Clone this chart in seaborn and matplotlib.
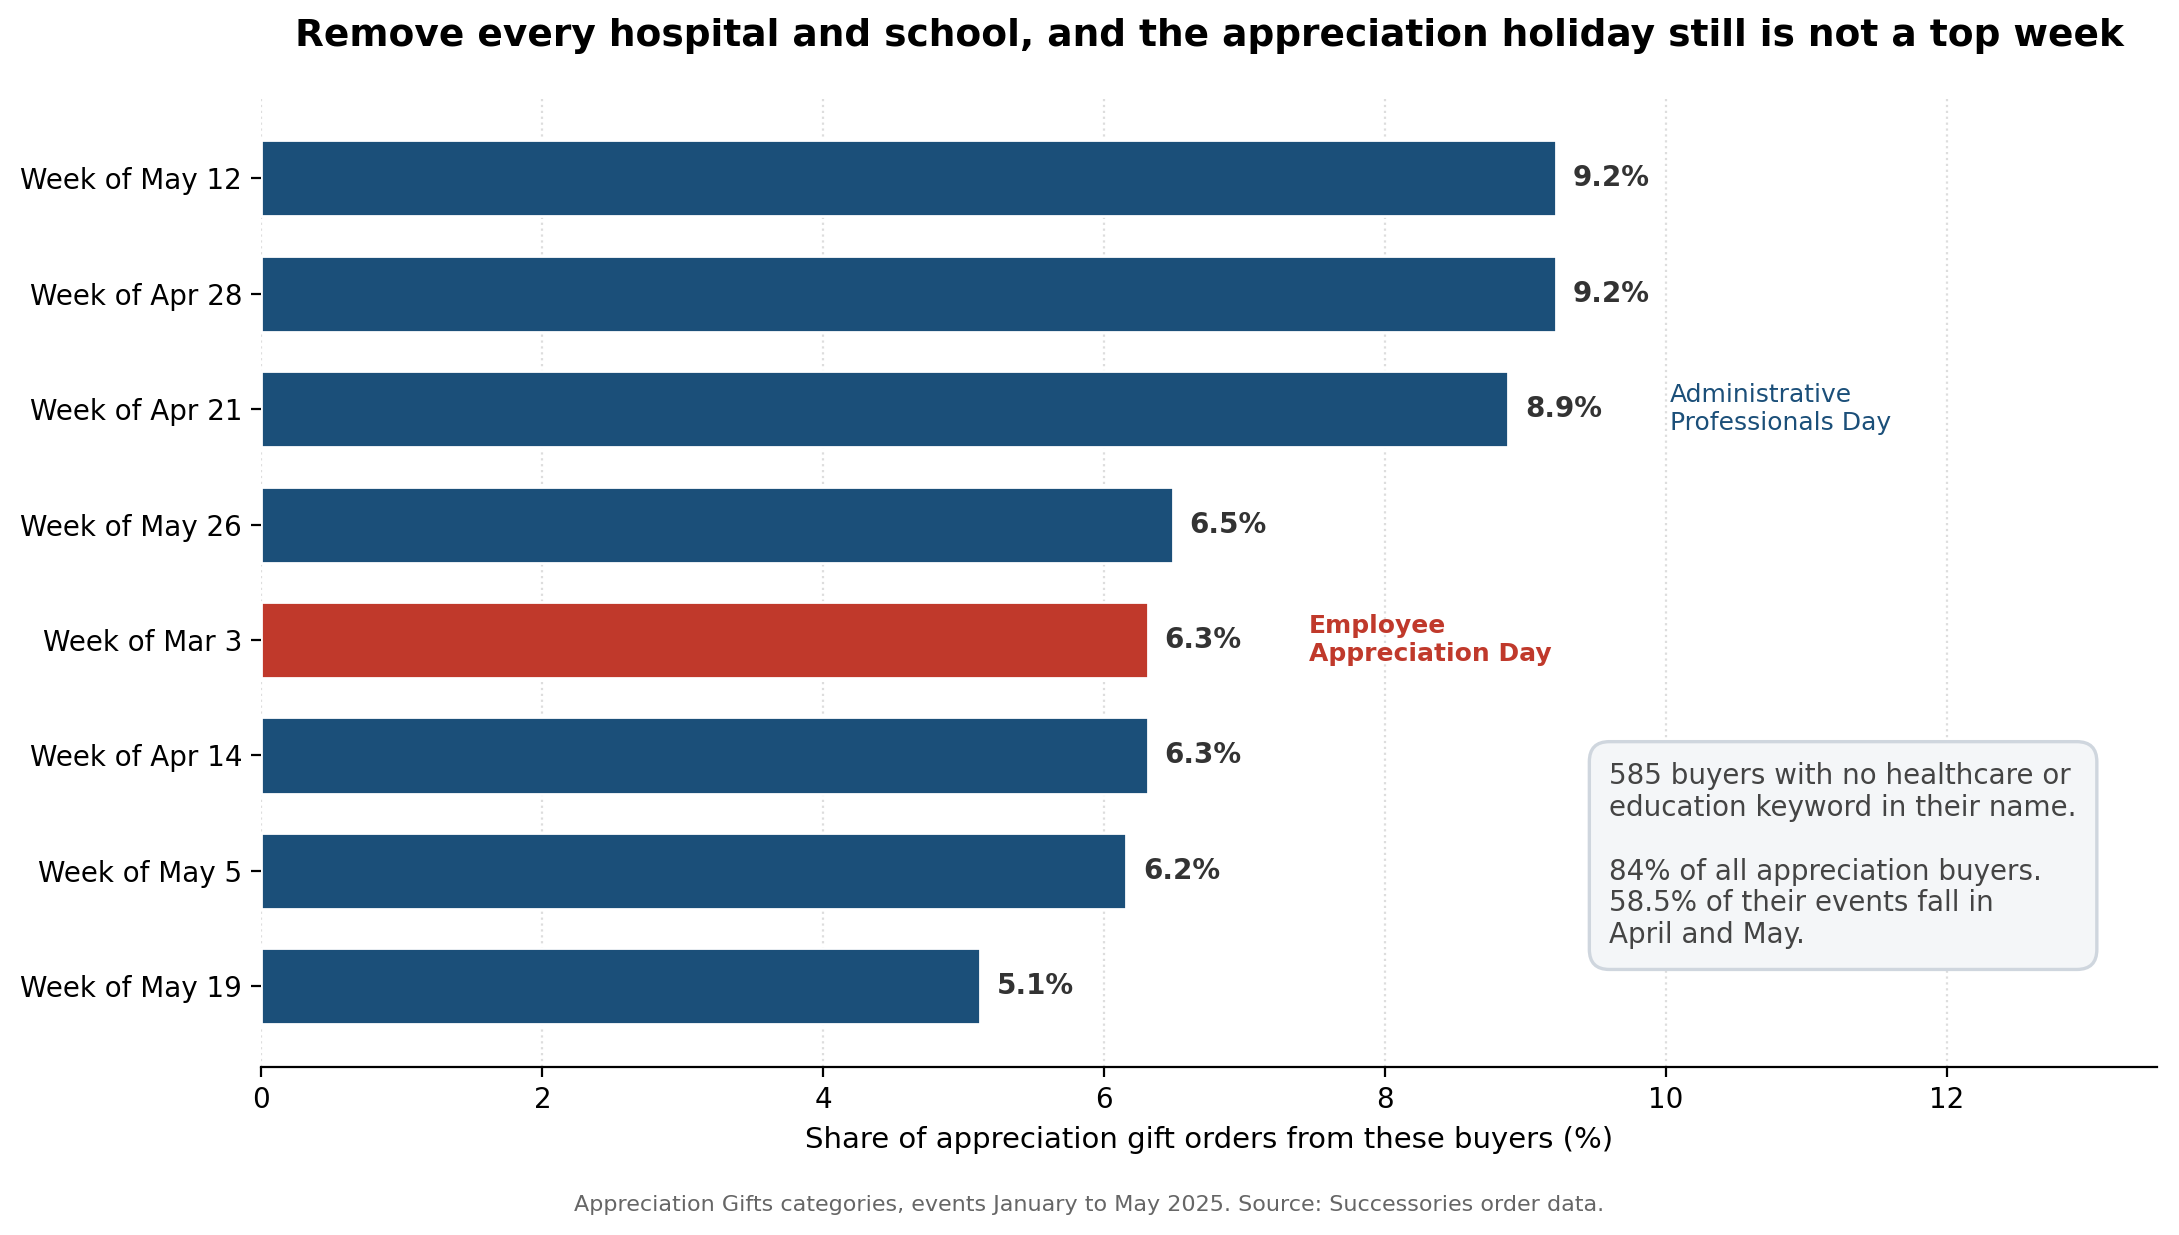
import matplotlib
matplotlib.use("Agg")
import matplotlib.pyplot as plt
import seaborn as sns
import pandas as pd

# weeks sorted by share, top to bottom
weeks = ['Week of May 12', 'Week of Apr 28', 'Week of Apr 21', 'Week of May 26',
         'Week of Mar 3', 'Week of Apr 14', 'Week of May 5', 'Week of May 19']
share = [9.22, 9.22, 8.88, 6.49, 6.31, 6.31, 6.16, 5.12]
highlight = ['no', 'no', 'no', 'no', 'yes', 'no', 'no', 'no']

df = pd.DataFrame({'week': weeks, 'share': share, 'hl': highlight})

BLUE = '#1b4f79'
RED = '#c0392b'

sns.set_theme(style="white")
plt.rcParams['font.family'] = ['DejaVu Sans']
plt.rcParams['text.color'] = 'black'
plt.rcParams['axes.labelcolor'] = 'black'
plt.rcParams['xtick.color'] = 'black'
plt.rcParams['ytick.color'] = 'black'

fig, ax = plt.subplots(figsize=(10.895, 6.175), dpi=200)
fig.subplots_adjust(left=0.12, right=0.99, top=0.921, bottom=0.136)

sns.barplot(data=df, y='week', x='share', hue='hl', palette={'no': BLUE, 'yes': RED},
            orient='h', width=0.66, dodge=False, legend=False, ax=ax, saturation=1)

for i, v in enumerate(share):
    ax.text(v + 0.12, i, f"{v:.1f}%", va='center', ha='left', fontsize=10,
            fontweight='bold', color='#333333')

ax.text(share[2] + 1.15, 2, "Administrative\nProfessionals Day", va='center', ha='left',
        fontsize=9, color=BLUE)
ax.text(share[4] + 1.15, 4, "Employee\nAppreciation Day", va='center', ha='left',
        fontsize=9, color=RED, fontweight='bold')

# note box
ax.text(0.711, 0.315,
        "585 buyers with no healthcare or\neducation keyword in their name.\n\n"
        "84% of all appreciation buyers.\n58.5% of their events fall in\nApril and May.",
        transform=ax.transAxes, va='top', ha='left', fontsize=10, color='#444444',
        linespacing=1.18,
        bbox=dict(boxstyle='round,pad=0.72', facecolor='#f4f6f8', edgecolor='#cfd6de',
                  linewidth=1.2))

ax.set_xlim(0, 13.5)
ax.set_ylim(7.7, -0.7)
ax.set_xticks([0, 2, 4, 6, 8, 10, 12])
ax.xaxis.grid(True, linestyle=':', color='#dddddd', linewidth=0.8)
ax.set_axisbelow(True)
sns.despine(ax=ax, left=True, top=True, right=True)
ax.spines['bottom'].set_color('black')
ax.spines['bottom'].set_linewidth(0.8)
ax.tick_params(axis='both', labelsize=10, length=3.5, width=0.8, color='black',
               left=True, bottom=True)
ax.set_ylabel('')
ax.set_xlabel('Share of appreciation gift orders from these buyers (%)', fontsize=10.5)

ax.set_title('Remove every hospital and school, and the appreciation holiday still is not a top week',
             fontsize=13.5, fontweight='bold', color='black', pad=18.5)

fig.text(0.5, 0.016, 'Appreciation Gifts categories, events January to May 2025. Source: Successories order data.',
         ha='center', va='bottom', fontsize=8, color='#666666')

fig.savefig('out.png', dpi=200)
